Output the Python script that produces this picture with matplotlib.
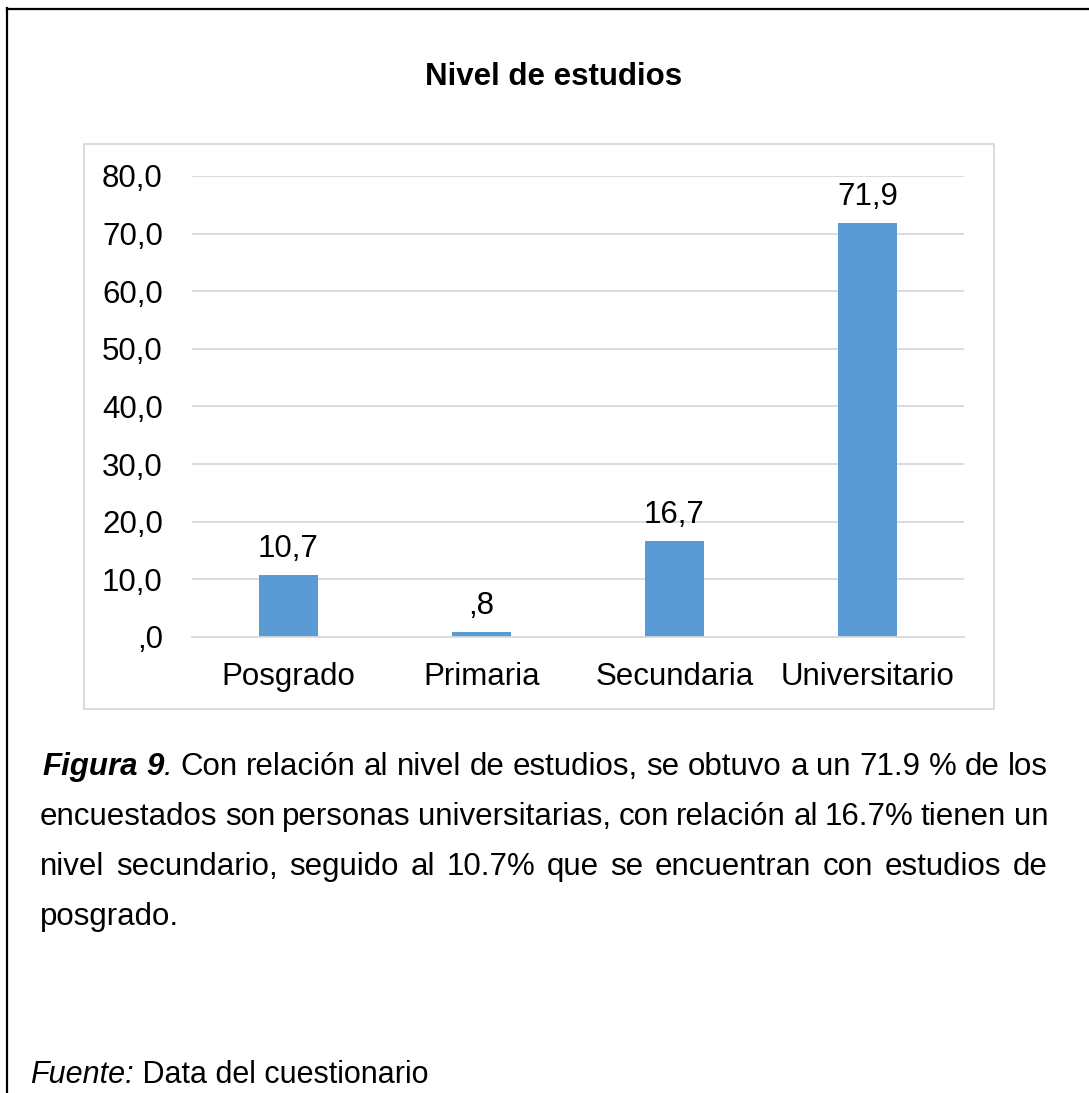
import matplotlib
matplotlib.use("Agg")
import matplotlib.pyplot as plt
from matplotlib.patches import Rectangle
from matplotlib.lines import Line2D

# datos del grafico
categorias = ["Posgrado", "Primaria", "Secundaria", "Universitario"]
porcentajes = [10.7, 0.8, 16.7, 71.9]
ticks_y = [0, 10, 20, 30, 40, 50, 60, 70, 80]

titulo = "Nivel de estudios"
linea1 = "Con relación al nivel de estudios, se obtuvo a un 71.9 % de los"
linea2 = "encuestados son personas universitarias, con relación al 16.7% tienen un"
linea3 = "nivel secundario, seguido al 10.7% que se encuentran con estudios de"
linea4 = "posgrado."
fuente = "Data del cuestionario"

plt.rcParams['font.family'] = ['Liberation Sans', 'DejaVu Sans']

W, H = 1089, 1093
fig = plt.figure(figsize=(W / 100, H / 100), dpi=100)


def fx(px):
    return px / W


def fy(py):
    return 1 - py / H


def fmt(v):
    s = f"{v:.1f}".replace(".", ",")
    if s.startswith("0,"):
        s = s[1:]
    return s


# marco exterior
fig.add_artist(Line2D([fx(7), fx(7)], [fy(8), fy(H + 5)], color="black", lw=1.6))
fig.add_artist(Line2D([fx(7), fx(W + 5)], [fy(8.5), fy(8.5)], color="black", lw=1.6))

# recuadro del grafico
fig.add_artist(Rectangle((fx(84), fy(709)), fx(994) - fx(84), (709 - 144) / H,
                         transform=fig.transFigure, fill=False,
                         edgecolor="#d9d9d9", lw=1.3))

fig.text(fx(554), fy(85), titulo, ha="center", va="baseline",
         fontsize=22.5, fontweight="bold")

ax = fig.add_axes([fx(192), fy(637), fx(964) - fx(192), (637 - 176) / H])
x = range(len(categorias))
ax.bar(x, porcentajes, width=0.31, color="#5b9bd5", zorder=2)
ax.set_xlim(-0.5, len(categorias) - 0.5)
ax.set_ylim(0, 80)
ax.set_yticks(ticks_y)
ax.set_yticklabels([fmt(t) for t in ticks_y])
ax.set_xticks(list(x))
ax.set_xticklabels(categorias)
ax.tick_params(length=0, labelsize=22.5, colors="black")
ax.tick_params(axis="y", pad=21)
ax.tick_params(axis="x", pad=18)
ax.yaxis.grid(True, color="#d9d9d9", lw=1.3, zorder=0)
ax.set_axisbelow(True)
for s in ["top", "right", "left"]:
    ax.spines[s].set_visible(False)
ax.spines["bottom"].set_color("#d9d9d9")
ax.spines["bottom"].set_linewidth(1.3)
ax.spines["bottom"].set_zorder(3)

for i, v in enumerate(porcentajes):
    ax.annotate(fmt(v), (i, v), xytext=(0, 13), textcoords="offset points",
                ha="center", va="baseline", fontsize=22.5)

# texto justificado
renderer = fig.canvas.get_renderer()
size_cap = 22.5


def ancho(segs, size=size_cap):
    w = 0
    for txt, kw in segs:
        t = fig.text(0, 0, txt, fontsize=size, **kw)
        w += t.get_window_extent(renderer).width
        t.remove()
    return w


def escribir(segs, xpx, ypx, size=size_cap):
    for txt, kw in segs:
        t = fig.text(fx(xpx), fy(ypx), txt, fontsize=size, va="baseline", **kw)
        xpx += t.get_window_extent(renderer).width


def justificar(palabras, ypx, x0=40, x1=1048):
    anchos = [ancho(p) for p in palabras]
    gap = (x1 - x0 - sum(anchos)) / (len(palabras) - 1)
    xp = x0
    for p, w in zip(palabras, anchos):
        escribir(p, xp, ypx)
        xp += w + gap


def simples(linea):
    return [[(w, {})] for w in linea.split()]


bi = {"fontweight": "bold", "fontstyle": "italic"}
it = {"fontstyle": "italic"}
palabras1 = [[("Figura", bi)], [("9", bi), (".", it)]] + simples(linea1)
justificar(palabras1, 775, x0=42)
justificar(simples(linea2), 825)
justificar(simples(linea3), 875)
escribir([(linea4, {})], 40, 925)

escribir([("Fuente:", it), (" " + fuente, {})], 30, 1083, size=22)

fig.savefig("out.png", dpi=100)
